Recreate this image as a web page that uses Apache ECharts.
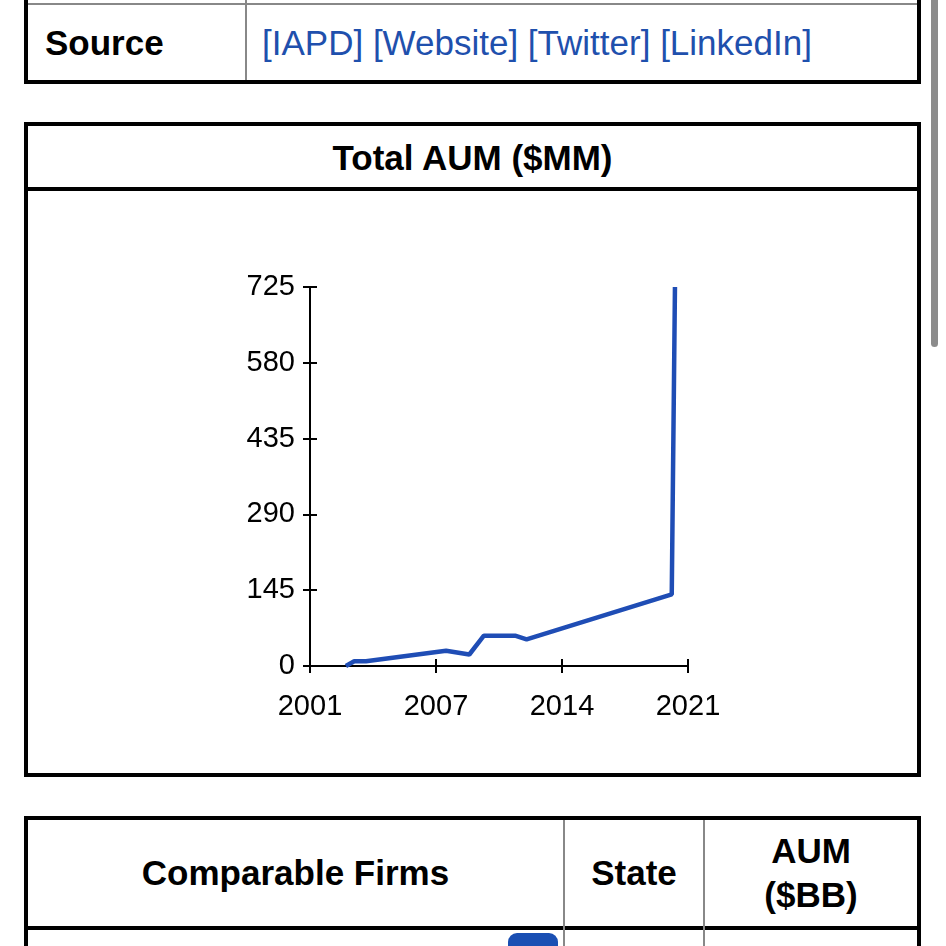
<!DOCTYPE html>
<html>
<head>
<meta charset="utf-8">
<script src="https://cdn.jsdelivr.net/npm/echarts@6/dist/echarts.min.js"></script>
<style>
  html, body { margin: 0; padding: 0; background: #fff; }
  body { width: 946px; height: 946px; overflow: hidden; position: relative;
         font-family: 'Liberation Sans', Arial, Helvetica, sans-serif; color: #000; }
  .box { position: absolute; border: 4px solid #000; box-sizing: border-box; }
  .rule { position: absolute; background: #888; }
  .black { position: absolute; background: #000; }
  .txt { position: absolute; font-size: 35px; white-space: nowrap; }
  .b { font-weight: bold; }
  .c { text-align: center; }
  a { color: #1f50ad; text-decoration: none; }
  #main { position: absolute; left: 0; top: 0; width: 946px; height: 946px; }
</style>
</head>
<body>
<!-- source table (upper rows scrolled away) -->
<div class="box" style="left:24px;top:-60px;width:897px;height:144px;"></div>
<div class="rule" style="left:28px;top:3px;width:889px;height:2px;"></div>
<div class="rule" style="left:245px;top:0;width:2px;height:80px;"></div>
<div class="txt b" style="left:45px;top:5px;height:75px;line-height:75px;">Source</div>
<div class="txt" style="left:262px;top:5px;height:75px;line-height:75px;">
  <a>[IAPD]</a> <a>[Website]</a> <a>[Twitter]</a> <a>[LinkedIn]</a>
</div>

<!-- chart box -->
<div class="box" style="left:24px;top:122px;width:897px;height:655px;"></div>
<div class="black" style="left:24px;top:187px;width:897px;height:4px;"></div>
<div class="txt b c" style="left:28px;top:126px;width:889px;height:62px;line-height:64px;">Total AUM ($MM)</div>

<!-- comparable firms table -->
<div class="box" style="left:24px;top:816px;width:897px;height:200px;"></div>
<div class="black" style="left:24px;top:926px;width:897px;height:4px;"></div>
<div class="rule" style="left:563px;top:820px;width:2px;height:130px;"></div>
<div class="rule" style="left:703px;top:820px;width:2px;height:130px;"></div>
<div class="txt b c" style="left:28px;top:820px;width:535px;height:106px;line-height:106px;">Comparable Firms</div>
<div class="txt b c" style="left:565px;top:820px;width:138px;height:106px;line-height:106px;">State</div>
<div class="txt b c" style="left:705px;top:829px;width:212px;line-height:44px;">AUM<br>($BB)</div>
<div style="position:absolute;left:508px;top:933px;width:50px;height:30px;border-radius:9px;background:#1a4fb3;"></div>

<!-- scrollbar -->
<div style="position:absolute;left:931px;top:-10px;width:7px;height:357px;border-radius:4px;background:#8c8c8c;"></div>

<div id="main"></div>

<script>
// Total AUM ($MM) by year (fractional years)
const years = [2002.9, 2003.34, 2003.96, 2008.2, 2009.43, 2010.2, 2011.85, 2012.46, 2020.14, 2020.31];
const aum = [0, 9, 9, 29, 22, 58, 58, 51, 137, 725];

// tick positions: the x range 2001-2021 split in three, labelled by whole year
const xTicks = [2001, 2001 + 20 / 3, 2001 + 40 / 3, 2021];
const yMax = 725;
const yStep = 145;

const font = "'Liberation Sans', Arial, Helvetica, sans-serif";
const lineColor = '#1f4db5';

const chart = echarts.init(document.getElementById('main'), null, { renderer: 'canvas' });

const yearLabel = v => String(Math.floor(v + 1e-6));

chart.setOption({
    backgroundColor: 'transparent',
    animation: false,
    grid: { left: 310, top: 287, width: 378, height: 379 },
    xAxis: [
        {
            type: 'value',
            min: 2001,
            max: 2021,
            splitLine: { show: false },
            axisLine: { show: true, lineStyle: { color: '#000', width: 2 } },
            axisTick: { show: true, length: 7, customValues: xTicks, lineStyle: { color: '#000', width: 2 } },
            axisLabel: {
                customValues: xTicks,
                formatter: yearLabel,
                color: '#000',
                fontSize: 29,
                fontFamily: font,
                margin: 26
            }
        },
        {
            type: 'value',
            min: 2001,
            max: 2021,
            position: 'bottom',
            splitLine: { show: false },
            axisLine: { show: false },
            axisTick: { show: true, inside: true, length: 7, customValues: xTicks, lineStyle: { color: '#000', width: 2 } },
            axisLabel: { show: false }
        }
    ],
    yAxis: [
        {
            type: 'value',
            min: 0,
            max: yMax,
            interval: yStep,
            splitLine: { show: false },
            axisLine: { show: true, lineStyle: { color: '#000', width: 2 } },
            axisTick: { show: true, length: 7, lineStyle: { color: '#000', width: 2 } },
            axisLabel: { color: '#000', fontSize: 29, fontFamily: font, margin: 15 }
        },
        {
            type: 'value',
            min: 0,
            max: yMax,
            interval: yStep,
            position: 'left',
            splitLine: { show: false },
            axisLine: { show: false },
            axisTick: { show: true, inside: true, length: 7, lineStyle: { color: '#000', width: 2 } },
            axisLabel: { show: false }
        }
    ],
    series: [
        {
            name: 'Total AUM',
            type: 'line',
            xAxisIndex: 0,
            yAxisIndex: 0,
            showSymbol: false,
            lineStyle: { color: lineColor, width: 4.5 },
            data: years.map((y, i) => [y, aum[i]])
        }
    ]
});
</script>
</body>
</html>
